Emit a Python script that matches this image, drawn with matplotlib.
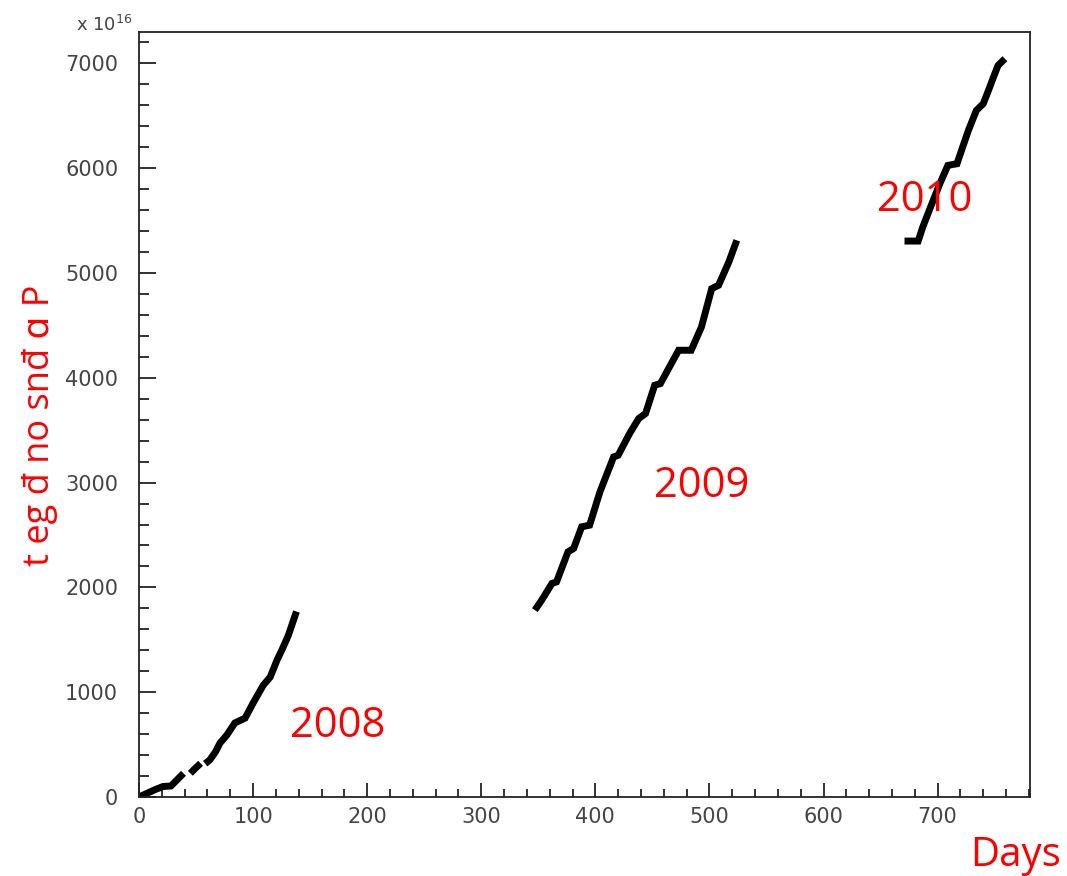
import matplotlib
matplotlib.use("Agg")
import matplotlib.pyplot as plt
import numpy as np
from matplotlib.ticker import MultipleLocator

# cumulative protons on target (units of 1e16) vs days
days_2008 = [0, 8, 14, 21, 28, 33, 39, np.nan, 45, 49, 54, np.nan,
             58, 62, 67, 71, 77, 84, 93, 100, 109, 115, 121, 126, 131, 138]
pot_2008 = [0, 40, 70, 100, 105, 160, 226, np.nan, 226, 270, 321, np.nan,
            318, 353, 430, 515, 591, 706, 753, 896, 1068, 1144, 1307, 1421, 1545, 1770]

days_2009 = [347, 353, 362, 366, 376, 381, 388, 395, 404, 416, 420, 430,
             438, 444, 452, 457, 473, 484, 493, 502, 508, 517, 524]
pot_2009 = [1783, 1879, 2038, 2053, 2339, 2372, 2578, 2594, 2911, 3245, 3261, 3468,
            3611, 3659, 3929, 3945, 4263, 4263, 4485, 4851, 4883, 5105, 5312]

days_2010 = [671, 683, 687, 695, 702, 709, 717, 720, 727, 734, 740, 744, 749, 753, 759]
pot_2010 = [5305, 5305, 5439, 5662, 5853, 6027, 6043, 6139, 6361, 6552, 6615,
            6726, 6870, 6981, 7045]

year_labels = ["2008", "2009", "2010"]
year_x = [174, 493, 689]
year_y = [677, 2966, 5693]

fig = plt.figure(figsize=(10.67, 8.76), dpi=100)
ax = fig.add_axes([139 / 1067, 79 / 876, (1030 - 139) / 1067, (797 - 32) / 876])

for d, p in [(days_2008, pot_2008), (days_2009, pot_2009), (days_2010, pot_2010)]:
    ax.plot(d, p, color="black", lw=5, solid_capstyle="butt", solid_joinstyle="miter")

ax.set_xlim(0, 781)
ax.set_ylim(0, 7300)

ax.xaxis.set_major_locator(MultipleLocator(100))
ax.xaxis.set_minor_locator(MultipleLocator(20))
ax.yaxis.set_major_locator(MultipleLocator(1000))
ax.yaxis.set_minor_locator(MultipleLocator(200))

ax.tick_params(axis="both", which="both", direction="in", width=1.3, color="#222222",
               labelcolor="#444444", labelsize=15)
ax.tick_params(axis="y", which="major", length=12.5, pad=15)
ax.tick_params(axis="y", which="minor", length=7)
ax.tick_params(axis="x", which="major", length=10, pad=7)
ax.tick_params(axis="x", which="minor", length=5.5)
for lab in ax.get_xticklabels() + ax.get_yticklabels():
    lab.set_family("DejaVu Sans")

for s in ["top", "right", "bottom", "left"]:
    ax.spines[s].set_linewidth(1.3)
    ax.spines[s].set_color("#222222")

fig.text(133 / 1067, 1 - 31 / 876, "x 10$^{16}$", ha="right", va="baseline",
         fontsize=13, color="#444444")

for lab, x, y in zip(year_labels, year_x, year_y):
    ax.text(x, y, lab, color="red", fontsize=30, family="Open Sans",
            ha="center", va="center")

fig.text(1016 / 1067, 1 - 856 / 876, "Days", color="red", fontsize=29,
         family="Open Sans", ha="center", va="center")

fig.text(40 / 1067, 1 - 425 / 876, "t eg đ no snđ ɑ P", color="red", fontsize=26,
         family=["Open Sans", "DejaVu Sans"], rotation=90, ha="center", va="center")

fig.savefig("out.png", dpi=100)
